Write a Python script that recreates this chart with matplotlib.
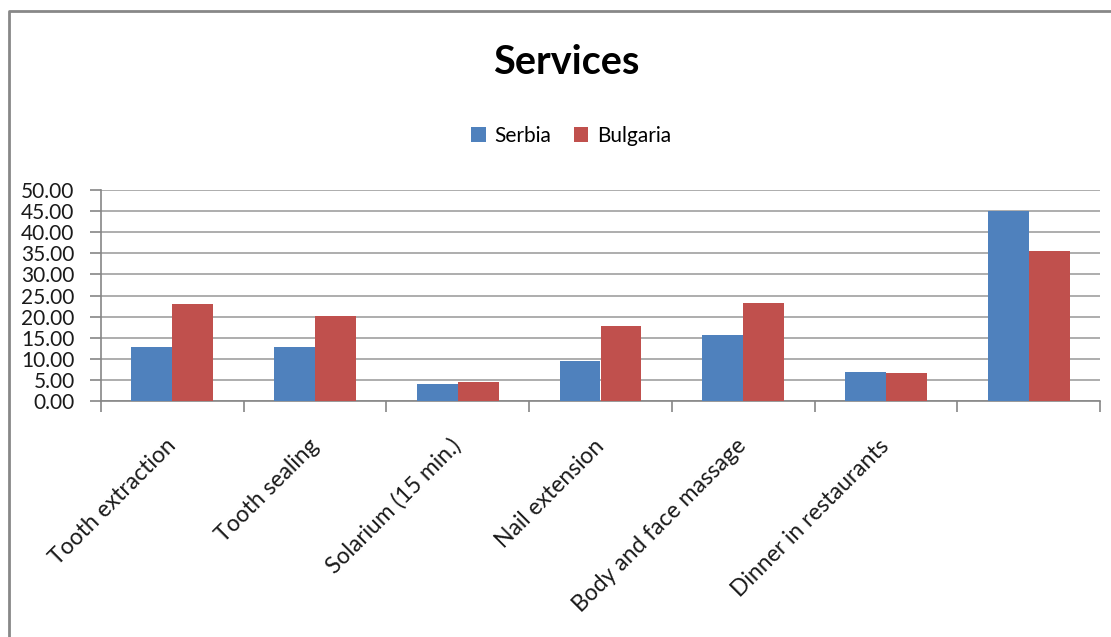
import matplotlib
matplotlib.use("Agg")
import matplotlib.pyplot as plt
from matplotlib.lines import Line2D
import numpy as np

categories = ["Tooth extraction", "Tooth sealing", "Solarium (15 min.)",
              "Nail extension", "Body and face massage", "Dinner in restaurants", ""]
serbia = [12.9, 12.9, 3.95, 9.4, 15.6, 6.9, 45.0]
bulgaria = [23.0, 20.2, 4.5, 17.8, 23.3, 6.7, 35.6]
series_names = ["Serbia", "Bulgaria"]
colors = ["#4F81BD", "#C0504D"]
y_ticks = [0, 5, 10, 15, 20, 25, 30, 35, 40, 45, 50]

plt.rcParams["font.family"] = ["Lato", "DejaVu Sans"]

W, H = 1111, 637
fig = plt.figure(figsize=(W / 100, H / 100), dpi=100)
ax = fig.add_axes([101 / W, 1 - 401 / H, (1100 - 101) / W, (401 - 190) / H])

n = len(categories)
x = np.arange(n)
bw = 0.287
ax.bar(x - bw / 2, serbia, bw, color=colors[0], label=series_names[0], zorder=3)
ax.bar(x + bw / 2, bulgaria, bw, color=colors[1], label=series_names[1], zorder=3)

ax.set_xlim(-0.5, n - 0.5)
ax.set_ylim(0, 50)
ax.set_yticks(y_ticks)
ax.set_yticklabels([f"{v:.2f}" for v in y_ticks], fontsize=15, color="#1a1a1a")
ax.yaxis.grid(True, color="#a0a0a0", linewidth=1.2, zorder=0)
ax.set_axisbelow(True)

# boundary ticks between categories, labels at category centres
ax.set_xticks(np.arange(n + 1) - 0.5)
ax.set_xticklabels([])
ax.set_xticks(x, minor=True)
ax.set_xticklabels(categories, minor=True, rotation=45, ha="right",
                   va="center", rotation_mode="anchor", fontsize=16.5,
                   color="#1a1a1a")
ax.tick_params(axis="x", which="minor", length=0, pad=30)
ax.tick_params(axis="x", which="major", length=8, width=1.2, color="#868686")
ax.tick_params(axis="y", which="major", length=8, width=1.2, color="#868686", pad=11)

for side in ("top", "right"):
    ax.spines[side].set_visible(False)
for side in ("left", "bottom"):
    ax.spines[side].set_color("#868686")
    ax.spines[side].set_linewidth(1.2)

fig.text(566 / W, 1 - 63 / H, "Services", ha="center", va="center",
         fontsize=28.5, fontweight="bold", color="black")

fig.legend(loc="center", bbox_to_anchor=(571 / W, 1 - 136 / H), ncol=2,
           frameon=False, fontsize=15, handlelength=0.7, handleheight=0.7,
           handletextpad=0.4, columnspacing=1.1)

# outer chart frame
fig.add_artist(Line2D([9 / W, 9 / W, 1.0], [0.0, 1 - 11 / H, 1 - 11 / H],
                      transform=fig.transFigure, color="#888888", linewidth=2))

fig.savefig("out.png", dpi=100, facecolor="white")
